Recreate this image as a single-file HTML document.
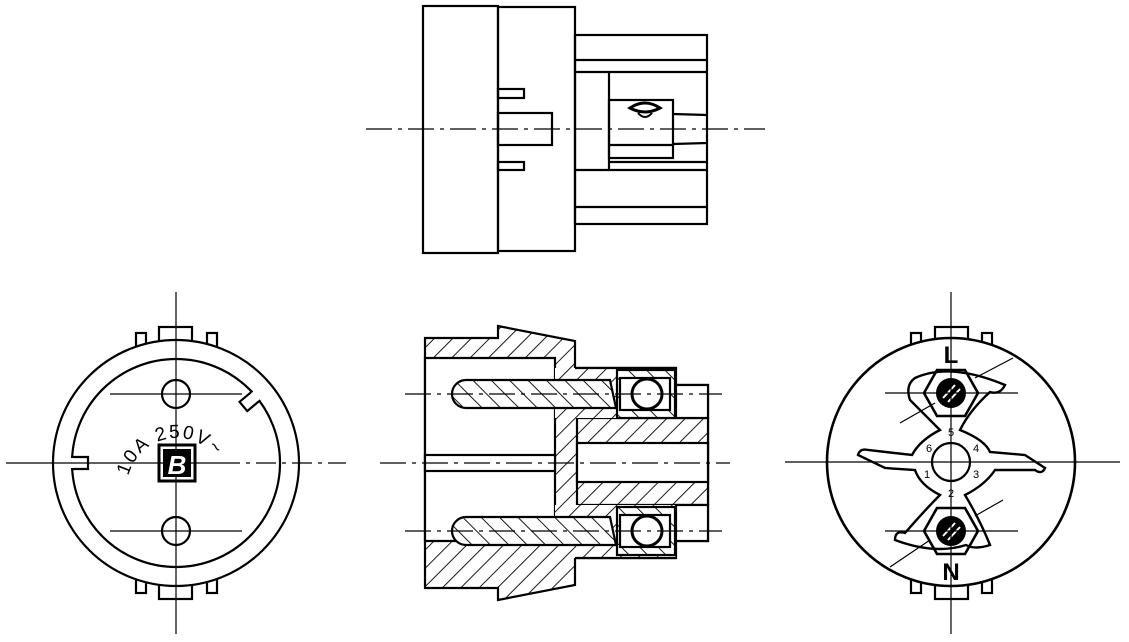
<!DOCTYPE html>
<html><head><meta charset="utf-8"><style>
html,body{margin:0;padding:0;background:#fff}
svg{display:block}
text{font-family:"Liberation Sans",sans-serif}
</style></head><body>
<svg width="1129" height="642" viewBox="0 0 1129 642" xmlns="http://www.w3.org/2000/svg">
<defs>
<pattern id="h" patternUnits="userSpaceOnUse" width="13" height="13" patternTransform="rotate(45)">
<rect width="13" height="13" fill="#fff"/><line x1="0" y1="0" x2="0" y2="13" stroke="#000" stroke-width="1.8"/></pattern>
<pattern id="h2" patternUnits="userSpaceOnUse" width="13" height="13" patternTransform="rotate(-45)">
<rect width="13" height="13" fill="#fff"/><line x1="0" y1="0" x2="0" y2="13" stroke="#000" stroke-width="1.8"/></pattern>
<path id="arc" d="M128 478 A50 50 0 0 1 226 478"/>
</defs>
<g fill="none" stroke="#000" stroke-width="2.2">
<!-- TOP VIEW -->
<rect x="423" y="6" width="75" height="247"/>
<rect x="498" y="7" width="77" height="244"/>
<rect x="575" y="35" width="132" height="189"/>
<line x1="575" y1="60" x2="707" y2="60"/>
<line x1="575" y1="72" x2="707" y2="72"/>
<line x1="575" y1="170" x2="707" y2="170"/>
<line x1="575" y1="207" x2="707" y2="207"/>
<line x1="609" y1="72" x2="609" y2="170"/>
<rect x="609" y="100" width="64" height="58"/>
<line x1="609" y1="145" x2="673" y2="145"/>
<line x1="609" y1="162" x2="707" y2="162"/>
<line x1="673" y1="114" x2="707" y2="115"/>
<line x1="673" y1="144" x2="707" y2="143"/>
<rect x="498" y="89" width="26" height="9"/>
<rect x="498" y="162" width="26" height="8"/>
<rect x="498" y="113" width="54" height="32"/>
<path d="M630 108 q15-10 30 0 q-15 8-30 0z" stroke-width="3"/>
<path d="M638 113 q7 8 14 0" stroke-width="2"/>
</g>
<line x1="366" y1="129" x2="765" y2="129" stroke="#000" stroke-width="1.2" stroke-dasharray="26,6,4,6"/>

<!-- LEFT VIEW -->
<g fill="none" stroke="#000" stroke-width="2.2">
<rect x="159" y="327" width="33" height="20"/>
<rect x="136" y="333" width="10" height="18"/>
<rect x="207" y="333" width="10" height="18"/>
<rect x="159" y="579" width="33" height="20"/>
<rect x="136" y="575" width="10" height="18"/>
<rect x="207" y="575" width="10" height="18"/>
<circle cx="176" cy="463" r="123" fill="#fff"/>
<circle cx="176" cy="463" r="104"/>
<path d="M71 457 h17 v12 h-17" fill="#fff"/>
<line x1="72" y1="458" x2="72" y2="468" stroke="#fff" stroke-width="3"/>
<g transform="rotate(-40 176 463)">
<path d="M281 457 h-17 v12 h17" fill="#fff"/>
<line x1="280" y1="458" x2="280" y2="468" stroke="#fff" stroke-width="3"/>
</g>
<circle cx="176" cy="394" r="14"/>
<circle cx="176" cy="531" r="14"/>
<rect x="159" y="445" width="36" height="36" stroke-width="3"/>
</g>
<g stroke="#000" stroke-width="1.2">
<line x1="176" y1="292" x2="176" y2="634"/>
<line x1="6" y1="463" x2="220" y2="463"/>
<line x1="220" y1="463" x2="346" y2="463" stroke-dasharray="20,6,4,6"/>
<line x1="110" y1="394" x2="242" y2="394"/>
<line x1="110" y1="531" x2="242" y2="531"/>
</g>
<rect x="163" y="449" width="28" height="28" fill="#000"/>
<text x="177" y="474" font-size="26" font-weight="bold" font-style="italic" fill="#fff" text-anchor="middle">B</text>
<text font-size="19" letter-spacing="2"><textPath href="#arc" startOffset="2">10A 250V~</textPath></text>

<!-- SECTION VIEW -->
<g stroke="#000" stroke-width="2.2">
<path d="M425 338 H498 L498 326 L575 341 V368 H676 V385 H708 V541 H676 V558 H575 V585 L498 600 L498 588 H425 Z" fill="url(#h)"/>
<path d="M425 358 H555 V541 H425 Z" fill="#fff"/>
<rect x="425" y="455" width="130" height="16" fill="#fff"/>
<path d="M577 418 H708 V505 H577 Z" fill="url(#h)"/>
<rect x="577" y="443" width="131" height="39" fill="#fff"/>
<rect x="555" y="368" width="121" height="50" fill="url(#h)" stroke="none"/>
<rect x="555" y="505" width="121" height="53" fill="url(#h)" stroke="none"/>
<line x1="575" y1="368" x2="676" y2="368"/>
<line x1="575" y1="558" x2="676" y2="558"/>
<rect x="676" y="385" width="32" height="33" fill="#fff"/>
<rect x="676" y="505" width="32" height="36" fill="#fff"/>
<path d="M466 380 H610 L616 408 H466 A14 14 0 0 1 466 380 Z" fill="url(#h2)"/>
<path d="M466 517 H610 L616 545 H466 A14 14 0 0 1 466 517 Z" fill="url(#h2)"/>
<rect x="617" y="370" width="58" height="48" fill="url(#h2)"/>
<rect x="617" y="507" width="58" height="48" fill="url(#h2)"/>
<rect x="620" y="378" width="50" height="32" fill="#fff"/>
<rect x="620" y="515" width="50" height="32" fill="#fff"/>
<circle cx="647" cy="394" r="15" fill="#fff" stroke-width="3"/>
<circle cx="647" cy="531" r="15" fill="#fff" stroke-width="3"/>
</g>
<g stroke="#000" stroke-width="1.2" stroke-dasharray="26,6,4,6">
<line x1="405" y1="394" x2="722" y2="394"/>
<line x1="405" y1="531" x2="722" y2="531"/>
<line x1="380" y1="463" x2="730" y2="463"/>
</g>

<!-- RIGHT VIEW -->
<g fill="none" stroke="#000" stroke-width="2.2">
<rect x="935" y="327" width="33" height="20"/>
<rect x="911" y="333" width="10" height="18"/>
<rect x="982" y="333" width="10" height="18"/>
<rect x="935" y="579" width="33" height="20"/>
<rect x="911" y="575" width="10" height="18"/>
<rect x="982" y="575" width="10" height="18"/>
<circle cx="951" cy="462" r="124" fill="#fff" stroke-width="2.6"/>
<path d="M915 378 Q950 362 1005 385 Q1000 395 990 392 Q970 410 960 430 Q985 440 990 452 L1025 455 L1045 468 Q1042 475 1035 470 L995 470 Q985 485 965 495 Q980 520 990 545 Q975 550 966 545 Q935 555 895 540 Q895 530 905 533 Q925 510 940 495 Q920 485 915 470 L885 468 L858 455 Q860 448 868 450 L912 455 Q920 440 940 430 Q925 415 910 400 Q905 385 915 378 Z" stroke-width="2.4"/>
<polygon points="924,393 937,370 965,370 978,393 965,416 937,416" stroke-width="2.6"/>
<polygon points="924,531 937,508 965,508 978,531 965,554 937,554" stroke-width="2.6"/>
<circle cx="951" cy="462" r="19"/>
</g>
<circle cx="951" cy="393" r="15" fill="#000"/>
<circle cx="951" cy="531" r="15" fill="#000"/>
<g stroke="#fff" stroke-width="2"><line x1="943" y1="398" x2="955" y2="385"/><line x1="948" y1="402" x2="960" y2="389"/><line x1="943" y1="536" x2="955" y2="523"/><line x1="948" y1="540" x2="960" y2="527"/></g>
<g stroke="#000" stroke-width="1.2">
<line x1="951" y1="292" x2="951" y2="634"/>
<line x1="785" y1="462" x2="1120" y2="462"/>
<line x1="885" y1="393" x2="1018" y2="393"/>
<line x1="885" y1="531" x2="1018" y2="531"/>
<line x1="900" y1="423" x2="935" y2="403"/>
<line x1="975" y1="378" x2="1013" y2="358"/>
<line x1="890" y1="567" x2="930" y2="540"/>
<line x1="975" y1="516" x2="1003" y2="500"/>
</g>
<text x="951" y="363" font-size="24" font-weight="bold" text-anchor="middle">L</text>
<text x="951" y="580" font-size="24" font-weight="bold" text-anchor="middle">N</text>
<g font-size="11" text-anchor="middle">
<text x="951" y="436">5</text><text x="929" y="452">6</text><text x="976" y="452">4</text>
<text x="927" y="478">1</text><text x="976" y="478">3</text><text x="951" y="497">2</text>
</g>
</svg>
</body></html>
